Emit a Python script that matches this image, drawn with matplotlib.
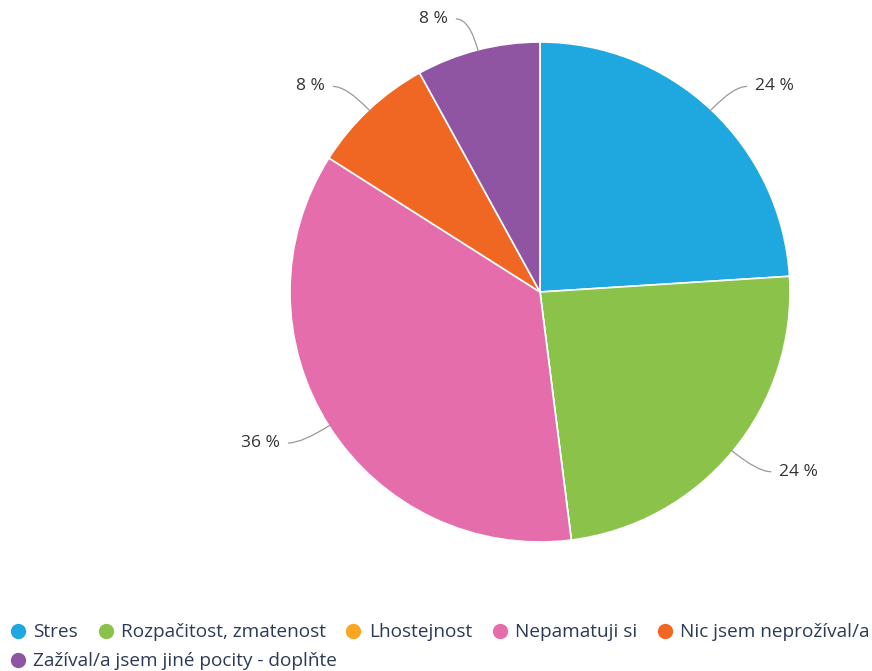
import numpy as np
import matplotlib.pyplot as plt
from matplotlib.lines import Line2D
from matplotlib.path import Path
from matplotlib.patches import PathPatch

# --- data ---
categories = ['Stres', 'Rozpačitost, zmatenost', 'Lhostejnost', 'Nepamatuji si',
              'Nic jsem neprožíval/a', 'Zažíval/a jsem jiné pocity - doplňte']
values = [24, 24, 0, 36, 8, 8]
colors = ['#1fa8e0', '#8bc34a', '#fba621', '#e56dab', '#f06723', '#8f55a2']

plt.rcParams['font.family'] = ['Open Sans', 'DejaVu Sans']

W, H = 872, 671
fig = plt.figure(figsize=(W / 100, H / 100), dpi=100)
ax = fig.add_axes([0, 0, 1, 1])

cx, cy, r = 540, H - 292, 250
wedges, _ = ax.pie(values, colors=colors, startangle=90, counterclock=False,
                   center=(cx, cy), radius=r, frame=True,
                   wedgeprops=dict(edgecolor='white', linewidth=1.2))
ax.set_xlim(0, W)
ax.set_ylim(0, H)
ax.set_aspect('equal')
ax.axis('off')

# --- curved leader lines and labels ---
total = sum(values)
start = 90.0
for v in values:
    ang = start - v / total * 360 / 2
    start -= v / total * 360
    if v == 0:
        continue
    a = np.deg2rad(ang)
    x0, y0 = cx + (r - 2) * np.cos(a), cy + (r - 2) * np.sin(a)
    side = 1 if np.cos(a) >= 0 else -1
    x1, y1 = cx + (r + 32) * np.cos(a), cy + (r + 32) * np.sin(a)
    x2 = x1 + side * 14
    verts = [(x0, y0), (x1, y1), (x2, y1)]
    path = Path(verts, [Path.MOVETO, Path.CURVE3, Path.CURVE3])
    ax.add_patch(PathPatch(path, fill=False, edgecolor='#999999', lw=0.9))
    ax.text(x2 + side * 8, y1, f'{v} %', ha='left' if side > 0 else 'right',
            va='center', fontsize=12.5, color='#333333')

# --- legend ---
handles = [Line2D([], [], marker='o', ls='', markersize=10, markerfacecolor=c,
                  markeredgecolor=c) for c in colors]
common = dict(loc='upper left', frameon=False, fontsize=13.7, handlelength=0.7,
              handletextpad=0.45, labelcolor='#2b3a55', borderaxespad=0.2)
fig.legend(handles[:5], categories[:5], ncol=5, columnspacing=1.1,
           bbox_to_anchor=(0.0, 1 - 612 / H), **common)
fig.legend(handles[5:], categories[5:], ncol=1,
           bbox_to_anchor=(0.0, 1 - 641 / H), **common)

fig.savefig('out.png', dpi=100, facecolor='white')
